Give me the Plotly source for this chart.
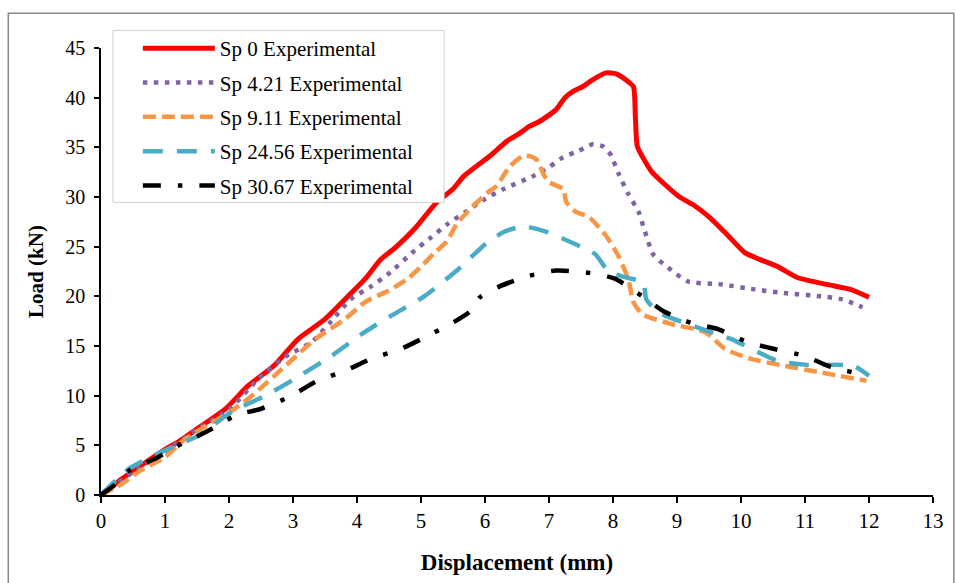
import plotly.graph_objects as go

# ---- data ----
names = ["Sp 0 Experimental", "Sp 4.21 Experimental", "Sp 9.11 Experimental",
         "Sp 24.56 Experimental", "Sp 30.67 Experimental"]

sp0_x = [0, 0.3, 0.7, 1.0, 1.22, 1.6, 1.95, 2.3, 2.7, 3.08, 3.5, 3.86, 4.12, 4.37, 4.6, 4.9,
         5.25, 5.5, 5.67, 6.07, 6.34, 6.54, 6.69, 6.85, 7.11, 7.25, 7.37, 7.55, 7.68, 7.89, 8.05,
         8.24, 8.32, 8.35, 8.38, 8.5, 8.61, 9.02, 9.28, 9.5, 9.8, 10.06, 10.3, 10.57, 10.88,
         11.34, 11.71, 12.0]
sp0_y = [0, 1.5, 3.3, 4.6, 5.4, 7.1, 8.7, 11.0, 13.0, 15.7, 17.7, 20.0, 21.7, 23.7, 24.9, 26.8,
         29.5, 30.8, 32.1, 34.1, 35.6, 36.4, 37.1, 37.6, 38.8, 40.0, 40.6, 41.2, 41.8, 42.5, 42.4,
         41.6, 41.1, 38.0, 35.1, 33.6, 32.5, 30.1, 29.1, 28.0, 26.1, 24.4, 23.7, 23.0, 21.9,
         21.2, 20.7, 19.9]

sp421_x = [0, 0.5, 1.0, 1.5, 2.0, 2.46, 2.9, 3.29, 3.6, 3.9, 4.22, 4.48, 4.9, 5.15, 5.4, 5.72,
           6.0, 6.29, 6.75, 7.0, 7.22, 7.45, 7.68, 7.84, 7.96, 8.09, 8.24, 8.4, 8.5, 8.63, 8.86,
           9.17, 9.7, 10.21, 10.72, 11.25, 11.58, 11.9]
sp421_y = [0, 2.3, 4.4, 6.6, 8.6, 11.7, 14.0, 15.4, 17.5, 19.7, 21.0, 22.2, 24.6, 25.9, 27.2, 28.6,
           29.8, 30.8, 32.1, 33.0, 34.0, 34.6, 35.3, 35.1, 34.3, 32.3, 30.3, 28.5, 26.5, 24.2, 22.9,
           21.5, 21.2, 20.7, 20.3, 20.0, 19.7, 18.9]

sp911_x = [0, 0.3, 0.6, 1.0, 1.27, 1.6, 2.0, 2.36, 2.88, 3.35, 3.81, 4.12, 4.5, 4.8, 5.0, 5.2,
           5.4, 5.56, 5.8, 6.07, 6.18, 6.39, 6.62, 6.8, 6.93, 7.0, 7.22, 7.27, 7.42, 7.62, 7.89,
           8.09, 8.24, 8.32, 8.46, 8.92, 9.44, 9.75, 10.16, 10.68, 11.19, 11.96]
sp911_y = [0, 1.0, 2.4, 3.8, 5.4, 6.8, 8.3, 10.0, 13.0, 15.7, 17.7, 19.4, 20.6, 21.8, 23.0, 24.3,
           25.5, 27.3, 29.0, 30.6, 31.1, 33.1, 34.2, 33.8, 32.1, 31.5, 30.8, 29.5, 28.5, 28.0, 26.1,
           24.0, 21.7, 19.4, 18.2, 17.2, 16.4, 14.7, 13.7, 13.0, 12.4, 11.5]

sp2456_x = [0, 0.45, 1.07, 1.53, 2.05, 2.57, 3.08, 3.6, 4.12, 4.52, 5.05, 5.56, 6.03, 6.3, 6.49,
            6.65, 6.96, 7.22, 7.53, 7.73, 7.93, 8.2, 8.48, 8.5, 8.52, 8.71, 9.48, 9.85, 10.57,
            11.03, 11.76, 12.0]
sp2456_y = [0, 2.7, 4.7, 6.0, 8.4, 10.0, 11.9, 14.0, 16.4, 18.0, 20.0, 22.6, 25.4, 26.5, 26.9,
            27.0, 26.5, 25.8, 24.9, 24.2, 22.5, 21.9, 21.4, 20.5, 19.7, 18.4, 16.5, 15.7, 13.5,
            13.1, 13.0, 12.0]

sp3067_x = [0, 0.19, 0.45, 0.86, 1.27, 1.53, 1.74, 2.1, 2.51, 2.98, 3.35, 3.81, 4.22, 4.68, 5.1,
            5.51, 5.77, 5.92, 6.23, 6.65, 7.11, 7.58, 8.02, 8.46, 8.79, 9.23, 9.64, 10.1, 10.52,
            10.99, 11.4, 11.99]
sp3067_y = [0, 0.9, 2.5, 3.7, 5.2, 6.0, 6.7, 8.0, 8.7, 10.0, 11.4, 12.5, 13.7, 14.7, 16.0,
            17.4, 18.5, 19.9, 21.0, 22.0, 22.6, 22.4, 21.8, 20.0, 18.5, 17.3, 16.7, 15.4, 14.7,
            14.0, 12.9, 12.0]

xs = [sp0_x, sp421_x, sp911_x, sp2456_x, sp3067_x]
ys = [sp0_y, sp421_y, sp911_y, sp2456_y, sp3067_y]

x_ticks = list(range(0, 14))
y_ticks = list(range(0, 50, 5))

# ---- styles ----
colors = ["#FF0000", "#8064A2", "#F79646", "#4BACC6", "#000000"]
widths = [5, 4.5, 4.5, 4.5, 4.5]
dashes = ["solid", "4.5px,6.5px", "13px,6px", "20px,14px", "18px,17px,4.5px,17px"]

FONT = "Liberation Serif, Times New Roman, serif"

fig = go.Figure()
for i in range(5):
    fig.add_trace(go.Scatter(
        x=xs[i], y=ys[i], mode="lines", name=names[i], legendgroup=names[i],
        line=dict(color=colors[i], width=widths[i], dash=dashes[i], shape="spline",
                  smoothing=0.6),
    ))

L, R, T, B = 101, 16, 48, 86
W, H = 956, 583
pw, ph = W - L - R, H - T - B


def px_x(p):
    return (p - L) / pw


def px_y(p):
    return (H - B - p) / ph


fig.update_layout(
    width=W, height=H,
    margin=dict(l=L, r=R, t=T, b=B),
    paper_bgcolor="white", plot_bgcolor="white",
    font=dict(family=FONT, size=20, color="black"),
    showlegend=True,
    legend=dict(
        x=px_x(116), y=px_y(28), xanchor="left", yanchor="top",
        bgcolor="rgba(0,0,0,0)", borderwidth=0,
        font=dict(family=FONT, size=21, color="black"),
        itemwidth=72, tracegroupgap=4, traceorder="grouped", indentation=22,
    ),
    xaxis=dict(
        range=[0, 13], tickvals=x_ticks, ticktext=[str(v) for v in x_ticks],
        showgrid=False, zeroline=False, showline=True, linecolor="black", linewidth=1.5,
        ticks="outside", ticklen=6, tickwidth=1.5, tickcolor="black",
        tickfont=dict(family=FONT, size=21),
        title=dict(text="<b>Displacement (mm)</b>", font=dict(family=FONT, size=23), standoff=22),
    ),
    yaxis=dict(
        range=[0, 45], tickvals=y_ticks, ticktext=[str(v) for v in y_ticks],
        showgrid=False, zeroline=False, showline=True, linecolor="black", linewidth=1.5,
        ticks="outside", ticklen=5, tickwidth=1.5, tickcolor="black",
        tickfont=dict(family=FONT, size=20), ticklabelstandoff=5,
        title=dict(text="<b>Load (kN)</b>", font=dict(family=FONT, size=21), standoff=16),
    ),
    shapes=[
        dict(type="rect", xref="paper", yref="paper", layer="below",
             x0=px_x(7.5), x1=px_x(W + 5), y0=px_y(H + 5), y1=px_y(13),
             line=dict(color="#878787", width=1.5), fillcolor="rgba(0,0,0,0)"),
        dict(type="rect", xref="paper", yref="paper", layer="above",
             x0=px_x(113), x1=px_x(447), y0=px_y(203), y1=px_y(30.5),
             line=dict(color="#d0d0d0", width=1), fillcolor="white"),
    ],
)

fig.write_html("out.html")
